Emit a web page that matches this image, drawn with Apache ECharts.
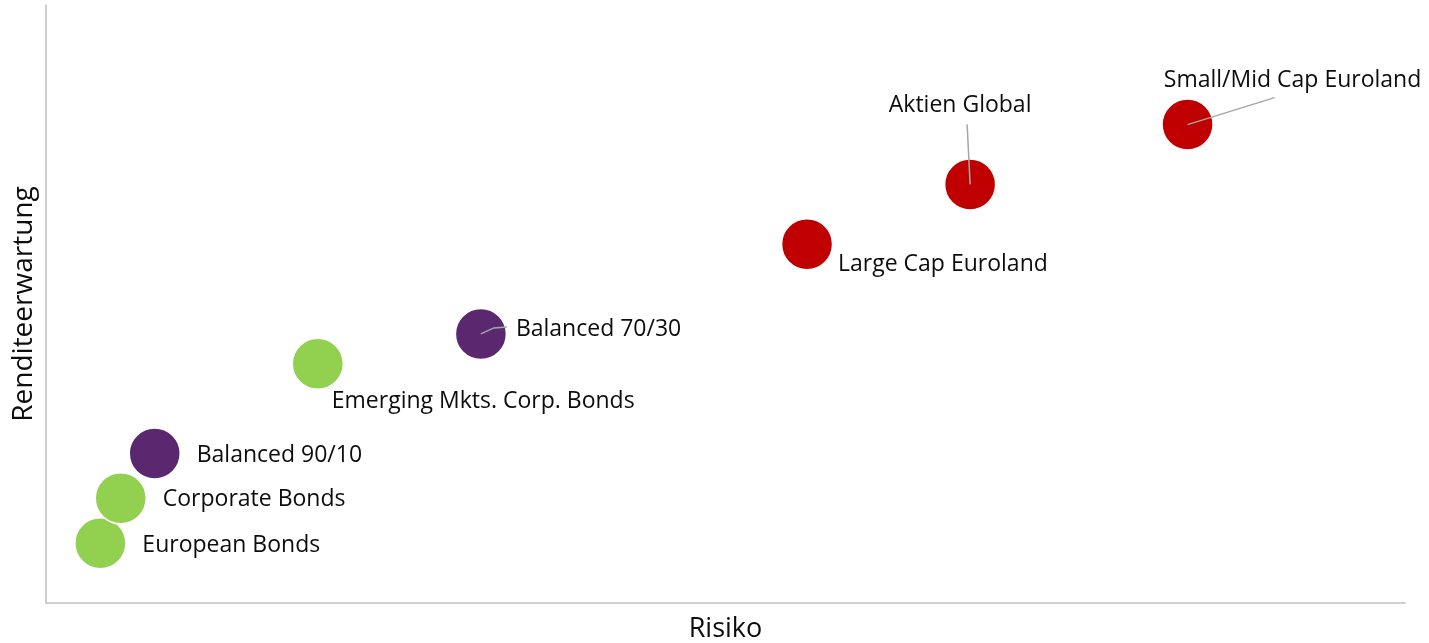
<!DOCTYPE html>
<html>
<head>
<meta charset="utf-8">
<script src="https://cdn.jsdelivr.net/npm/echarts@6/dist/echarts.min.js"></script>
<style>html,body{margin:0;padding:0;background:#fff}#c{width:1429px;height:643px}</style>
</head>
<body>
<div id="c"></div>
<script>
const names = ['European Bonds','Corporate Bonds','Balanced 90/10','Emerging Mkts. Corp. Bonds','Balanced 70/30','Large Cap Euroland','Aktien Global','Small/Mid Cap Euroland'];
const risk = [4, 5.5, 8, 20, 32, 56, 68, 84];
const ret = [10, 17.5, 25, 40, 45, 60, 70, 80];
const groups = ['bond','bond','balanced','bond','balanced','equity','equity','equity'];

const colors = {bond:'#92d050', balanced:'#5b2870', equity:'#c00000'};
// label placement (pixel offsets from point centre)
const labelCfg = {
  'European Bonds': {dx:42, dy:2, align:'left'},
  'Corporate Bonds': {dx:42, dy:1, align:'left'},
  'Balanced 90/10': {dx:42, dy:2, align:'left'},
  'Emerging Mkts. Corp. Bonds': {dx:14, dy:38, align:'left'},
  'Balanced 70/30': {dx:35, dy:-4, align:'left'},
  'Large Cap Euroland': {dx:31, dy:20, align:'left'},
  'Aktien Global': {dx:-10, dy:-79, align:'center'},
  'Small/Mid Cap Euroland': {dx:105, dy:-44, align:'center'}
};
const leaderCfg = {
  'Balanced 70/30': [[13,-6],[26,-7]],
  'Aktien Global': [[-3,-60]],
  'Small/Mid Cap Euroland': [[87,-27]]
};

const scatterData = names.map((n,i)=>({
  name:n,
  value:[risk[i], ret[i]],
  itemStyle:{color:colors[groups[i]]},
  label:{
    show:true, position:'inside', formatter:n,
    align:labelCfg[n].align, verticalAlign:'middle',
    offset:[labelCfg[n].dx, labelCfg[n].dy]
  }
}));
const leaderData = names.map((n,i)=>leaderCfg[n] ? {name:n, value:[risk[i], ret[i]]} : null).filter(Boolean);

const chart = echarts.init(document.getElementById('c'));
chart.setOption({
  animation:false,
  grid:{left:46, right:24, top:5, bottom:40, containLabel:false, outerBoundsMode:'none'},
  xAxis:{
    type:'value', min:0, max:100,
    name:'Risiko', nameLocation:'middle', nameGap:13,
    nameTextStyle:{fontFamily:'Open Sans', fontSize:27, color:'#0d0d0d'},
    axisLine:{show:true, lineStyle:{color:'#bfbfbf', width:1.5}},
    axisTick:{show:false}, axisLabel:{show:false}, splitLine:{show:false}
  },
  yAxis:{
    type:'value', min:0, max:100,
    name:'Renditeerwartung', nameLocation:'middle', nameGap:8, nameRotate:90,
    nameTextStyle:{fontFamily:'Open Sans', fontSize:28, color:'#0d0d0d'},
    axisLine:{show:true, lineStyle:{color:'#bfbfbf', width:1.5}},
    axisTick:{show:false}, axisLabel:{show:false}, splitLine:{show:false}
  },
  series:[
    {
      type:'scatter', symbolSize:51, z:2,
      itemStyle:{borderColor:'#fff', borderWidth:1.5, opacity:1},
      label:{fontFamily:'Open Sans', fontSize:23, color:'#0d0d0d'},
      data:scatterData
    },
    {
      type:'custom', z:5, silent:true,
      data:leaderData,
      renderItem:function(params, api){
        const p = api.coord([api.value(0), api.value(1)]);
        const n = leaderData[params.dataIndex].name;
        const pts = [p].concat(leaderCfg[n].map(o=>[p[0]+o[0], p[1]+o[1]]));
        return {type:'polyline', shape:{points:pts}, style:{stroke:'#a6a6a6', lineWidth:1.5, fill:null}};
      }
    }
  ]
});
</script>
</body>
</html>
